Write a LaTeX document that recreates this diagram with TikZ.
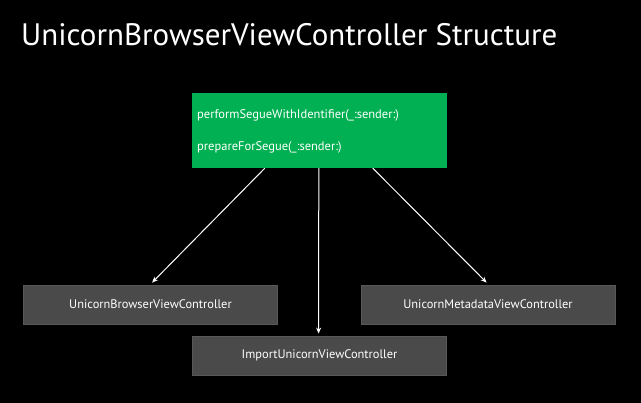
\documentclass[tikz,border=0pt]{standalone}
\usepackage{fontspec}
\setmainfont{PT Sans}
\usetikzlibrary{arrows.meta,calc}
\definecolor{gbox}{RGB}{0,176,82}
\definecolor{dbox}{RGB}{74,74,74}
\definecolor{dedge}{RGB}{88,88,88}
\tikzset{
  greybox/.style={draw=dedge,fill=dbox,line width=0.8pt,minimum width=254pt,minimum height=39pt,inner sep=0pt,text=white,font=\fontsize{12.4}{14}\selectfont},
  greenbox/.style={fill=gbox,minimum width=255pt,minimum height=75pt,inner sep=0pt},
  greentext/.style={text=white,inner sep=0pt,anchor=west,font=\fontsize{12.5}{14}\selectfont},
  arr/.style={draw=white,line width=1pt,-{Stealth[length=6pt,width=5pt]}}
}
\begin{document}
\begin{tikzpicture}[x=1pt,y=-1pt]
\fill[black] (0,0) rectangle (641,403);
\useasboundingbox (0,0) rectangle (641,403);
\node[anchor=base west,inner sep=0pt,text=white,font=\fontsize{31}{35}\selectfont] (title) at (21,46) {UnicornBrowserViewController Structure};
\node[greenbox] (g) at (319.5,130.5) {};
\node[greentext] (t1) at (197,115) {performSegueWithIdentifier(\_:sender:)};
\node[greentext] (t2) at (197,147) {prepareForSegue(\_:sender:)};
\node[greybox] (lb) at (150.5,304.5) {UnicornBrowserViewController};
\node[greybox] (rb) at (488,304.5) {UnicornMetadataViewController};
\node[greybox] (bb) at (319.5,355.5) {ImportUnicornViewController};
\draw[arr] ($(g.south west)+(73,0)$) -- ($(lb.north west)+(129,-2)$);
\draw[arr] ($(g.south west)+(127,0)$) -- ($(bb.north west)+(126.5,-2)$);
\draw[arr] ($(g.south west)+(181,0)$) -- ($(rb.north west)+(126,-2)$);
\end{tikzpicture}
\end{document}
